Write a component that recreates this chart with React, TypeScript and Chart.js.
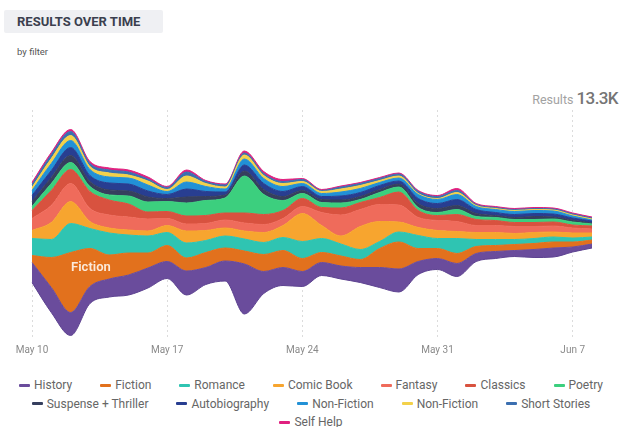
import React, { useEffect, useRef } from "react";
import { Chart, registerables } from "chart.js";

Chart.register(...registerables);

const dates = [
  "May 10", "May 11", "May 12", "May 13", "May 14", "May 15", "May 16", "May 17",
  "May 18", "May 19", "May 20", "May 21", "May 22", "May 23", "May 24", "May 25",
  "May 26", "May 27", "May 28", "May 29", "May 30", "May 31", "Jun 1", "Jun 2",
  "Jun 3", "Jun 4", "Jun 5", "Jun 6", "Jun 7", "Jun 8",
];
const tickLabels = ["May 10", "May 17", "May 24", "May 31", "Jun 7"];

const history = [20, 25, 23, 17, 18, 20, 20, 17, 24, 17, 20, 50, 22, 18, 15, 13, 13, 15, 20, 23, 13, 11, 13, 8, 7, 6, 8, 9, 5, 4];
const fiction = [7, 30, 60, 38, 24, 22, 15, 16, 13, 15, 13, 13, 17, 17, 13, 10, 10, 8, 19, 27, 13, 10, 10, 7, 6, 6, 6, 6, 5, 4];
const romance = [17, 18, 29, 20, 22, 18, 17, 13, 15, 12, 12, 12, 12, 13, 17, 14, 12, 10, 7, 10, 13, 10, 15, 7, 6, 5, 5, 5, 4, 3];
const comicBook = [8, 17, 22, 7, 5, 5, 5, 7, 12, 10, 8, 8, 10, 12, 28, 13, 8, 23, 20, 10, 8, 8, 7, 7, 7, 6, 6, 5, 5, 4];
const fantasy = [12, 17, 18, 13, 13, 13, 12, 7, 7, 7, 8, 8, 8, 7, 7, 13, 21, 17, 17, 17, 10, 10, 10, 7, 7, 7, 6, 6, 5, 4];
const classics = [8, 15, 14, 17, 15, 13, 7, 7, 8, 8, 7, 10, 10, 8, 8, 5, 7, 7, 7, 13, 7, 5, 7, 6, 5, 4, 4, 4, 3, 3];
const poetry = [4, 7, 7, 5, 5, 8, 10, 10, 13, 15, 15, 37, 20, 10, 5, 5, 5, 3, 5, 5, 3, 3, 5, 3, 3, 3, 3, 3, 3, 2];
const suspense = [5, 6, 7, 5, 5, 5, 5, 3, 6, 4, 3, 5, 5, 4, 3, 3, 3, 3, 3, 3, 4, 4, 4, 3, 2, 2, 3, 2, 2, 1];
const autobiography = [6, 7, 8, 6, 7, 7, 6, 4, 8, 5, 3, 6, 6, 5, 4, 3, 4, 4, 4, 3, 5, 5, 6, 4, 3, 3, 3, 3, 2, 2];
const nonFiction = [5, 7, 7, 6, 6, 6, 6, 3, 7, 5, 3, 6, 5, 5, 3, 3, 4, 4, 3, 3, 4, 4, 5, 3, 3, 3, 3, 3, 2, 1];
const nonFiction2 = [3, 5, 5, 3, 4, 3, 4, 2, 6, 3, 2, 4, 3, 3, 2, 2, 3, 3, 2, 2, 1, 1, 2, 1, 1, 1, 1, 1, 1, 1];
const shortStories = [3, 4, 4, 3, 3, 3, 2, 2, 4, 2, 2, 2, 2, 2, 2, 1, 2, 2, 2, 2, 2, 2, 2, 1, 1, 1, 1, 1, 1, 1];
const selfHelp = [2, 2, 2, 2, 2, 2, 2, 1, 2, 1, 1, 2, 2, 2, 1, 1, 1, 1, 1, 1, 1, 1, 2, 1, 1, 1, 1, 1, 1, 1];

const seriesNames = [
  "History", "Fiction", "Romance", "Comic Book", "Fantasy", "Classics", "Poetry",
  "Suspense + Thriller", "Autobiography", "Non-Fiction", "Non-Fiction", "Short Stories", "Self Help",
];
const seriesValues = [
  history, fiction, romance, comicBook, fantasy, classics, poetry,
  suspense, autobiography, nonFiction, nonFiction2, shortStories, selfHelp,
];
const seriesColors = [
  "#6a4c9c", "#e2711d", "#2fc4b2", "#f7a52f", "#ef6b5b", "#d8523f", "#3ccf7e",
  "#363f5e", "#283e91", "#2291d6", "#f3d14a", "#3b6fb0", "#e0207f",
];

const totalLabel = "13.3K";

export default function App() {
  const canvasRef = useRef<HTMLCanvasElement | null>(null);

  useEffect(() => {
    if (!canvasRef.current) return;
    // silhouette offset: center the stream around zero
    const baseline = dates.map((_, i) => -seriesValues.reduce((s, arr) => s + arr[i], 0) / 2);

    const datasets: any[] = [
      {
        label: "baseline",
        data: baseline,
        fill: false,
        borderColor: "#5d4290",
        borderWidth: 1,
        pointRadius: 0,
        cubicInterpolationMode: "monotone",
      },
      ...seriesNames.map((name, k) => ({
        label: name,
        data: seriesValues[k],
        fill: "-1",
        backgroundColor: seriesColors[k],
        borderColor: seriesColors[k],
        borderWidth: 1,
        pointRadius: 0,
        cubicInterpolationMode: "monotone",
      })),
    ];

    const fictionLabel = {
      id: "fictionLabel",
      afterDatasetsDraw(chart: any) {
        const top = chart.getDatasetMeta(2).data[3];
        const bottom = chart.getDatasetMeta(1).data[3];
        if (!top || !bottom) return;
        const ctx = chart.ctx;
        ctx.save();
        ctx.font = "600 13px Roboto";
        ctx.fillStyle = "#fbeadc";
        ctx.textAlign = "center";
        ctx.textBaseline = "middle";
        ctx.fillText("Fiction", top.x + 1, (top.y + bottom.y) / 2);
        ctx.restore();
      },
    };

    const chart = new Chart(canvasRef.current, {
      type: "line",
      data: { labels: dates, datasets },
      plugins: [fictionLabel],
      options: {
        animation: false,
        responsive: false,
        maintainAspectRatio: false,
        layout: { padding: { left: 32, right: 30, top: 110, bottom: 5 } },
        plugins: { legend: { display: false }, tooltip: { enabled: false } },
        elements: { line: { tension: 0.4 } },
        scales: {
          x: {
            offset: false,
            afterFit: (s: any) => {
              s.height = 20;
            },
            border: { display: false, dash: [2, 3] },
            grid: {
              drawTicks: false,
              lineWidth: 1,
              color: (c: any) =>
                tickLabels.includes(dates[c.index]) ? "#dcdcdc" : "rgba(0,0,0,0)",
            },
            ticks: {
              autoSkip: false,
              maxRotation: 0,
              padding: 4,
              color: "#8a8a8a",
              font: { size: 10, family: "Roboto" },
              callback: (_v: any, i: number) => (tickLabels.includes(dates[i]) ? dates[i] : ""),
            },
          },
          y: {
            display: false,
            stacked: "single" as any,
            min: -107.5,
            max: 122.5,
          },
        },
      },
    });
    return () => chart.destroy();
  }, []);

  return (
    <div
      style={{
        position: "absolute",
        left: 0,
        top: 0,
        width: 622,
        height: 427,
        background: "#fff",
        fontFamily: "Roboto, sans-serif",
        overflow: "hidden",
      }}
    >
      <div
        style={{
          position: "absolute",
          left: 4,
          top: 10,
          width: 159,
          height: 23,
          background: "#eff0f3",
          borderRadius: 2,
        }}
      />
      <div
        style={{
          position: "absolute",
          left: 17,
          top: 14,
          fontSize: 13,
          lineHeight: "16px",
          fontWeight: 700,
          color: "#3b3f4e",
          whiteSpace: "nowrap",
        }}
      >
        RESULTS OVER TIME
      </div>
      <div
        style={{
          position: "absolute",
          left: 17,
          top: 46,
          fontSize: 9.5,
          lineHeight: "12px",
          color: "#555",
        }}
      >
        by filter
      </div>
      <div
        style={{
          position: "absolute",
          right: 4,
          top: 88,
          whiteSpace: "nowrap",
          lineHeight: "20px",
        }}
      >
        <span style={{ fontSize: 12.5, color: "#a2a2a2" }}>Results </span>
        <span style={{ fontSize: 17, fontWeight: 500, color: "#757575", letterSpacing: -0.6 }}>
          {totalLabel}
        </span>
      </div>
      <canvas
        ref={canvasRef}
        width={622}
        height={365}
        style={{ position: "absolute", left: 0, top: 0, width: 622, height: 365 }}
      />
      <div
        style={{
          position: "absolute",
          left: 0,
          top: 376,
          width: 622,
          display: "flex",
          flexWrap: "wrap",
          justifyContent: "center",
          columnGap: 28,
          rowGap: 0,
        }}
      >
        {seriesNames.map((name, k) => (
          <div
            key={k}
            style={{
              display: "flex",
              alignItems: "center",
              height: 18.5,
              fontSize: 12,
              color: "#666",
              whiteSpace: "nowrap",
            }}
          >
            <span
              style={{
                display: "inline-block",
                width: 11,
                height: 3,
                borderRadius: 1,
                background: seriesColors[k],
                marginRight: 4,
              }}
            />
            {name}
          </div>
        ))}
      </div>
    </div>
  );
}
